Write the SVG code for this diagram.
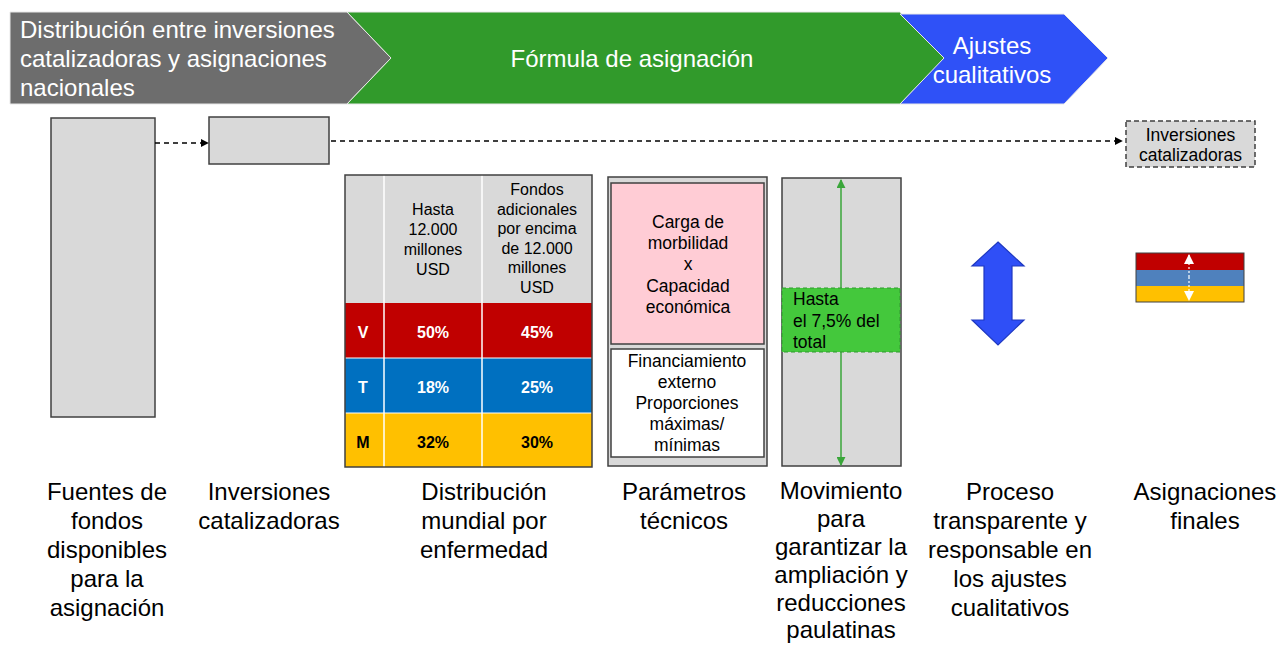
<svg xmlns="http://www.w3.org/2000/svg" width="1279" height="646" viewBox="0 0 1279 646">
<defs>
<style>
text{font-family:"Liberation Sans",Arial,sans-serif;}
.ban{fill:#fff;font-size:24px;}
.lbl{fill:#000;font-size:24px;text-anchor:middle;}
.box{fill:#d9d9d9;stroke:#404040;stroke-width:1.5;}
.hd{fill:#000;font-size:16px;text-anchor:middle;}
.val{font-size:16px;font-weight:bold;text-anchor:middle;fill:#fff;}
.t17{fill:#000;font-size:17.5px;text-anchor:middle;}
.dash{stroke:#000;stroke-width:1.5;stroke-dasharray:5 4;fill:none;}
</style>
<marker id="ah" viewBox="0 0 10 10" refX="9" refY="5" markerWidth="8" markerHeight="8" markerUnits="userSpaceOnUse" orient="auto"><path d="M0,0L10,5L0,10Z" fill="#000"/></marker>
<marker id="gh" viewBox="0 0 10 10" refX="9" refY="5" markerWidth="9" markerHeight="9" markerUnits="userSpaceOnUse" orient="auto"><path d="M0,0L10,5L0,10Z" fill="#3aa63a"/></marker>
<marker id="wh" viewBox="0 0 10 10" refX="9" refY="5" markerWidth="10" markerHeight="10" markerUnits="userSpaceOnUse" orient="auto"><path d="M0,0L10,5L0,10Z" fill="#fff"/></marker>
</defs>
<rect width="1279" height="646" fill="#fff"/>

<g id="banner-gray">
<polygon points="10,12 347,12 391,58 347,104 10,104" fill="#6d6d6d" stroke="#e8e8e8" stroke-width="1"/>
<text class="ban" x="20" y="38">Distribución entre inversiones</text>
<text class="ban" x="20" y="67">catalizadoras y asignaciones</text>
<text class="ban" x="20" y="96">nacionales</text>
</g>
<g id="banner-green">
<polygon points="347,12 900,12 945,58 900,104 347,104 391,58" fill="#319a2b" stroke="#e8e8e8" stroke-width="1"/>
<text class="ban" x="632" y="67" text-anchor="middle">Fórmula de asignación</text>
</g>
<g id="banner-blue">
<polygon points="900,14 1064,14 1108,58 1064,104 900,104 944,58" fill="#2f51f7" stroke="#e8e8e8" stroke-width="1"/>
<text class="ban" x="992" y="54" text-anchor="middle">Ajustes</text>
<text class="ban" x="992" y="83" text-anchor="middle">cualitativos</text>
</g>

<g id="fuentes">
<rect class="box" x="51" y="118" width="104" height="299"/>
</g>
<g id="inversiones">
<rect class="box" x="209" y="117" width="120" height="47"/>
</g>
<g id="inversiones-final">
<rect x="1126" y="121" width="129" height="46" fill="#d9d9d9" stroke="#404040" stroke-width="1.5" stroke-dasharray="5 3"/>
<text class="t17" x="1190.5" y="141">Inversiones</text>
<text class="t17" x="1190.5" y="161">catalizadoras</text>
</g>

<g id="connectors">
<line class="dash" x1="155" y1="143" x2="208" y2="143" marker-end="url(#ah)"/>
<line class="dash" x1="331" y1="141" x2="1122" y2="141" marker-end="url(#ah)"/>
</g>

<g id="tabla">
<rect x="345" y="175" width="247" height="128" fill="#d9d9d9"/>
<rect x="345" y="303" width="247" height="55" fill="#c00000"/>
<rect x="345" y="358" width="247" height="55" fill="#0070c0"/>
<rect x="345" y="413" width="247" height="54" fill="#ffc000"/>
<line x1="384" y1="175" x2="384" y2="467" stroke="#fff" stroke-width="1.5"/>
<line x1="482" y1="175" x2="482" y2="467" stroke="#fff" stroke-width="1.5"/>
<line x1="345" y1="358" x2="592" y2="358" stroke="#fff" stroke-width="1"/>
<line x1="345" y1="413" x2="592" y2="413" stroke="#fff" stroke-width="1"/>
<rect x="345" y="175" width="247" height="292" fill="none" stroke="#404040" stroke-width="1.5"/>
<text class="hd" x="433" y="215">Hasta</text>
<text class="hd" x="433" y="235">12.000</text>
<text class="hd" x="433" y="255">millones</text>
<text class="hd" x="433" y="275">USD</text>
<text class="hd" x="537" y="195">Fondos</text>
<text class="hd" x="537" y="214.5">adicionales</text>
<text class="hd" x="537" y="234">por encima</text>
<text class="hd" x="537" y="253.5">de 12.000</text>
<text class="hd" x="537" y="273">millones</text>
<text class="hd" x="537" y="292.5">USD</text>
<text class="val" x="363" y="338">V</text>
<text class="val" x="433" y="338">50%</text>
<text class="val" x="537" y="338">45%</text>
<text class="val" x="363" y="393">T</text>
<text class="val" x="433" y="393">18%</text>
<text class="val" x="537" y="393">25%</text>
<text class="val" x="363" y="448" style="fill:#000">M</text>
<text class="val" x="433" y="448" style="fill:#000">32%</text>
<text class="val" x="537" y="448" style="fill:#000">30%</text>
</g>

<g id="parametros">
<rect class="box" x="608" y="177" width="159" height="289"/>
<rect x="611" y="183" width="153" height="161" fill="#ffccd5" stroke="#404040" stroke-width="1.5"/>
<rect x="611" y="349" width="153" height="108" fill="#fff" stroke="#404040" stroke-width="1.5"/>
<text class="t17" x="688" y="228">Carga de</text>
<text class="t17" x="688" y="249">morbilidad</text>
<text class="t17" x="688" y="270">x</text>
<text class="t17" x="688" y="292">Capacidad</text>
<text class="t17" x="688" y="313">económica</text>
<text class="t17" x="687" y="367">Financiamiento</text>
<text class="t17" x="687" y="388">externo</text>
<text class="t17" x="687" y="409">Proporciones</text>
<text class="t17" x="687" y="430">máximas/</text>
<text class="t17" x="687" y="451">mínimas</text>
</g>

<g id="movimiento">
<rect class="box" x="782" y="178" width="119" height="288"/>
<line x1="841" y1="288" x2="841" y2="180" stroke="#3aa63a" stroke-width="1.5" marker-end="url(#gh)"/>
<line x1="841" y1="352" x2="841" y2="465" stroke="#3aa63a" stroke-width="1.5" marker-end="url(#gh)"/>
<rect x="782" y="288" width="118" height="64" fill="#44c83c" stroke="#2f9a2f" stroke-width="1" stroke-dasharray="4 3"/>
<text x="793" y="305" style="font-size:17.5px;fill:#000">Hasta</text>
<text x="793" y="327" style="font-size:17.5px;fill:#000">el 7,5% del</text>
<text x="793" y="348" style="font-size:17.5px;fill:#000">total</text>
</g>

<g id="ajustes">
<polygon points="998,242 1024,266 1012,266 1012,320 1024,320 998,345 972,320 984,320 984,266 972,266" fill="#2f4ff7" stroke="#1e38c0" stroke-width="1.2"/>
</g>

<g id="asignaciones-finales">
<rect x="1136" y="253" width="108" height="17" fill="#c00000"/>
<rect x="1136" y="270" width="108" height="16" fill="#4f81bd"/>
<rect x="1136" y="286" width="108" height="16" fill="#ffc000"/>
<rect x="1136" y="253" width="108" height="49" fill="none" stroke="#404040" stroke-width="1"/>
<line x1="1189" y1="277" x2="1189" y2="255" stroke="#fff" stroke-width="1.2" stroke-dasharray="2 2" marker-end="url(#wh)"/>
<line x1="1189" y1="277" x2="1189" y2="300" stroke="#fff" stroke-width="1.2" stroke-dasharray="2 2" marker-end="url(#wh)"/>
</g>

<g id="labels">
<text class="lbl" x="107" y="500">Fuentes de</text>
<text class="lbl" x="107" y="529">fondos</text>
<text class="lbl" x="107" y="558">disponibles</text>
<text class="lbl" x="107" y="587">para la</text>
<text class="lbl" x="107" y="616">asignación</text>
<text class="lbl" x="269" y="500">Inversiones</text>
<text class="lbl" x="269" y="529">catalizadoras</text>
<text class="lbl" x="484" y="500">Distribución</text>
<text class="lbl" x="484" y="529">mundial por</text>
<text class="lbl" x="484" y="558">enfermedad</text>
<text class="lbl" x="684" y="500">Parámetros</text>
<text class="lbl" x="684" y="529">técnicos</text>
<text class="lbl" x="841" y="499">Movimiento</text>
<text class="lbl" x="841" y="527">para</text>
<text class="lbl" x="841" y="555">garantizar la</text>
<text class="lbl" x="841" y="583">ampliación y</text>
<text class="lbl" x="841" y="611">reducciones</text>
<text class="lbl" x="841" y="638">paulatinas</text>
<text class="lbl" x="1010" y="500">Proceso</text>
<text class="lbl" x="1010" y="529">transparente y</text>
<text class="lbl" x="1010" y="558">responsable en</text>
<text class="lbl" x="1010" y="587">los ajustes</text>
<text class="lbl" x="1010" y="616">cualitativos</text>
<text class="lbl" x="1205" y="500">Asignaciones</text>
<text class="lbl" x="1205" y="529">finales</text>
</g>
</svg>
